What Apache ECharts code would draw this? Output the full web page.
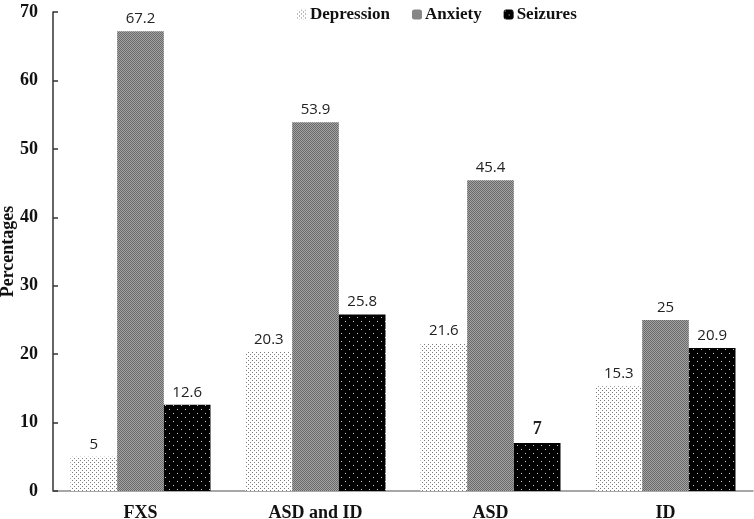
<!DOCTYPE html>
<html><head><meta charset="utf-8">
<script src="https://cdn.jsdelivr.net/npm/echarts@6/dist/echarts.min.js"></script>
<style>html,body{margin:0;padding:0;background:#fff}#c{width:754px;height:519px}</style>
</head><body><div id="c"></div>
<script>
const categories = ['FXS', 'ASD and ID', 'ASD', 'ID'];
const depression = [5, 20.3, 21.6, 15.3];
const anxiety = [67.2, 53.9, 45.4, 25];
const seizures = [12.6, 25.8, 7, 20.9];
const yTicks = [0, 10, 20, 30, 40, 50, 60, 70];

function makePattern(w, h, bg, dots, dotColor) {
  const cv = document.createElement('canvas');
  cv.width = w; cv.height = h;
  const ctx = cv.getContext('2d');
  ctx.fillStyle = bg; ctx.fillRect(0, 0, w, h);
  ctx.fillStyle = dotColor;
  dots.forEach(d => ctx.fillRect(d[0], d[1], d[2] || 1, d[3] || 1));
  return { image: cv, repeat: 'repeat' };
}
const depPat = makePattern(4, 4, '#ffffff', [[0,0],[2,2]], '#7a7a7a');
const anxPat = makePattern(2, 2, '#a4a4a4', [[0,0],[1,1]], '#686868');
const seiPat = makePattern(8, 8, '#000000', [[1,1],[5,5]], '#d0d0d0');

const serif = 'Liberation Serif, Times New Roman, serif';
const labelBase = { show: true, position: 'top', distance: 5, fontFamily: 'Open Sans, sans-serif', fontSize: 15, color: '#222' };

const chart = echarts.init(document.getElementById('c'));
chart.setOption({
  animation: false,
  legend: {
    left: 292, top: 1, itemWidth: 10, itemHeight: 10, itemGap: 22,
    textStyle: { fontFamily: serif, fontWeight: 'bold', fontSize: 17, color: '#111', padding: [0, 0, 0, -2] },
    data: ['Depression', 'Anxiety', 'Seizures']
  },
  grid: { left: 53, right: 1, top: 12, bottom: 28, outerBoundsMode: 'none', containLabel: false },
  xAxis: {
    type: 'category', data: categories,
    axisLine: { lineStyle: { color: '#8a8a8a', width: 1.5 } },
    axisTick: { show: false },
    axisLabel: { fontFamily: serif, fontWeight: 'bold', fontSize: 18, color: '#111', margin: 13 }
  },
  yAxis: {
    type: 'value', min: 0, max: 70, interval: 10,
    name: 'Percentages', nameLocation: 'middle', nameGap: 36, nameRotate: 90, nameMoveOverlap: false,
    nameTextStyle: { fontFamily: serif, fontWeight: 'bold', fontSize: 18, color: '#111' },
    axisLine: { show: true, lineStyle: { color: '#333', width: 1.5 } },
    axisTick: { show: true, inside: true, length: 5, lineStyle: { color: '#333', width: 1.5 } },
    splitLine: { show: false },
    axisLabel: { fontFamily: serif, fontWeight: 'bold', fontSize: 18, color: '#111', margin: 15,
      formatter: v => yTicks.indexOf(v) >= 0 ? String(v) : '' }
  },
  series: [
    { name: 'Depression', type: 'bar', data: depression, barGap: '0%', barCategoryGap: '20%',
      itemStyle: { color: depPat }, label: labelBase },
    { name: 'Anxiety', type: 'bar', data: anxiety,
      itemStyle: { color: anxPat }, label: labelBase },
    { name: 'Seizures', type: 'bar',
      data: seizures.map((v, i) => i === 2 ? { value: v, label: { fontFamily: serif, fontWeight: 'bold', fontSize: 18 } } : v),
      itemStyle: { color: seiPat }, label: labelBase }
  ]
});
</script></body></html>
